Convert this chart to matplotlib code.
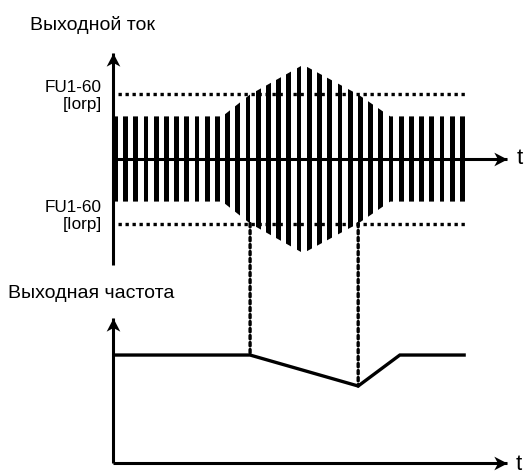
import numpy as np
import matplotlib
matplotlib.use("Agg")
import matplotlib.pyplot as plt
from matplotlib.patches import Polygon, ConnectionPatch
from matplotlib.path import Path

plt.rcParams['font.family'] = ['Liberation Sans', 'DejaVu Sans']

# time is counted in PWM pulse periods
pulse_times = np.arange(35) + 0.23
pulse_width = 0.47
t_end = 38.6

# current envelope, 1.0 = current limit FU1-60
env_t = [0.0, 10.7, 13.43, 18.63, 24.02, 27.16, 34.5]
env_amp = [0.66, 0.66, 1.0, 1.46, 1.0, 0.66, 0.66]
i_limit = 1.0
limit_t = [0.5, 34.5]
i_max = 1.643

# output frequency, 1.0 = set frequency
freq_t = [0.0, 13.43, 24.02, 28.1, 34.4]
freq_val = [1.0, 1.0, 0.713, 1.0, 1.0]
f_max = 1.343

# moments when the current crosses the limit
cross_t = [13.43, 24.02]
cross_f = [1.0, 0.713]

W, H = 530, 475
fig = plt.figure(figsize=(W / 100, H / 100), dpi=100)


def px_axes(left, top, right, bottom):
    # axes placed by pixel box
    return fig.add_axes([left / W, 1 - bottom / H, (right - left) / W, (bottom - top) / H])


codes = [Path.MOVETO, Path.LINETO, Path.LINETO, Path.LINETO, Path.CLOSEPOLY]
head_up = Path([(0, 0), (-0.52, -1), (0, -0.72), (0.52, -1), (0, 0)], codes)
head_right = Path([(0, 0), (-1, 0.52), (-0.72, 0), (-1, -0.52), (0, 0)], codes)
dots = (0, (1.0, 1.1))
lw_dots = 2.4
lw_axis = 2.2


def arrow_axes(ax):
    for s in ["top", "right"]:
        ax.spines[s].set_visible(False)
    for s in ["left", "bottom"]:
        ax.spines[s].set_linewidth(lw_axis)
        ax.spines[s].set_capstyle("butt")
    ax.set_xticks([])
    ax.set_yticks([])
    ax.patch.set_visible(False)
    ax.plot(0, 1, marker=head_up, ms=19, color="black", mec="none",
            transform=ax.transAxes, clip_on=False)


# --- output current ---
ax1 = px_axes(113, 53, 507, 265)
ax1.set_xlim(0, t_end)
ax1.set_ylim(-i_max, i_max)
arrow_axes(ax1)
ax1.spines["bottom"].set_position(("data", 0))
ax1.plot(1, 0, marker=head_right, ms=19, color="black", mec="none",
         transform=ax1.get_yaxis_transform(), clip_on=False)

verts = list(zip(env_t, env_amp)) + list(zip(env_t[::-1], [-a for a in env_amp[::-1]]))
envelope = Polygon(verts, closed=True, fill=False, edgecolor="none")
ax1.add_patch(envelope)
bars = ax1.bar(pulse_times, 2 * i_max, bottom=-i_max, width=pulse_width,
               color="black", linewidth=0)
for b in bars:
    b.set_clip_path(envelope)

for lvl in [i_limit, -i_limit]:
    ax1.plot(limit_t, [lvl, lvl], color="black", linestyle=dots,
             linewidth=lw_dots, dash_capstyle="butt")

# --- output frequency ---
ax2 = px_axes(113, 318, 507, 463)
ax2.set_xlim(0, t_end)
ax2.set_ylim(0, f_max)
arrow_axes(ax2)
ax2.plot(1, 0, marker=head_right, ms=19, color="black", mec="none",
         transform=ax2.transAxes, clip_on=False)
ax2.plot(freq_t, freq_val, color="black", linewidth=2.4, solid_joinstyle="miter")

for t, f in zip(cross_t, cross_f):
    con = ConnectionPatch(xyA=(t, -i_limit), coordsA=ax1.transData,
                          xyB=(t, f), coordsB=ax2.transData,
                          color="black", linestyle=dots, linewidth=lw_dots)
    fig.add_artist(con)

# labels
def px_text(x, y, s, size, ha="left"):
    fig.text(x / W, 1 - y / H, s, fontsize=size, ha=ha, va="baseline")


px_text(30, 30, "Выходной ток", 14)
px_text(8, 298, "Выходная частота", 14)
px_text(102, 92, "FU1-60", 12.3, ha="right")
px_text(102, 109, "[Iorp]", 12.3, ha="right")
px_text(102, 212, "FU1-60", 12.3, ha="right")
px_text(102, 229, "[Iorp]", 12.3, ha="right")
px_text(517, 164, "t", 16)
px_text(516, 470, "t", 16)

fig.savefig("out.png", dpi=100)
